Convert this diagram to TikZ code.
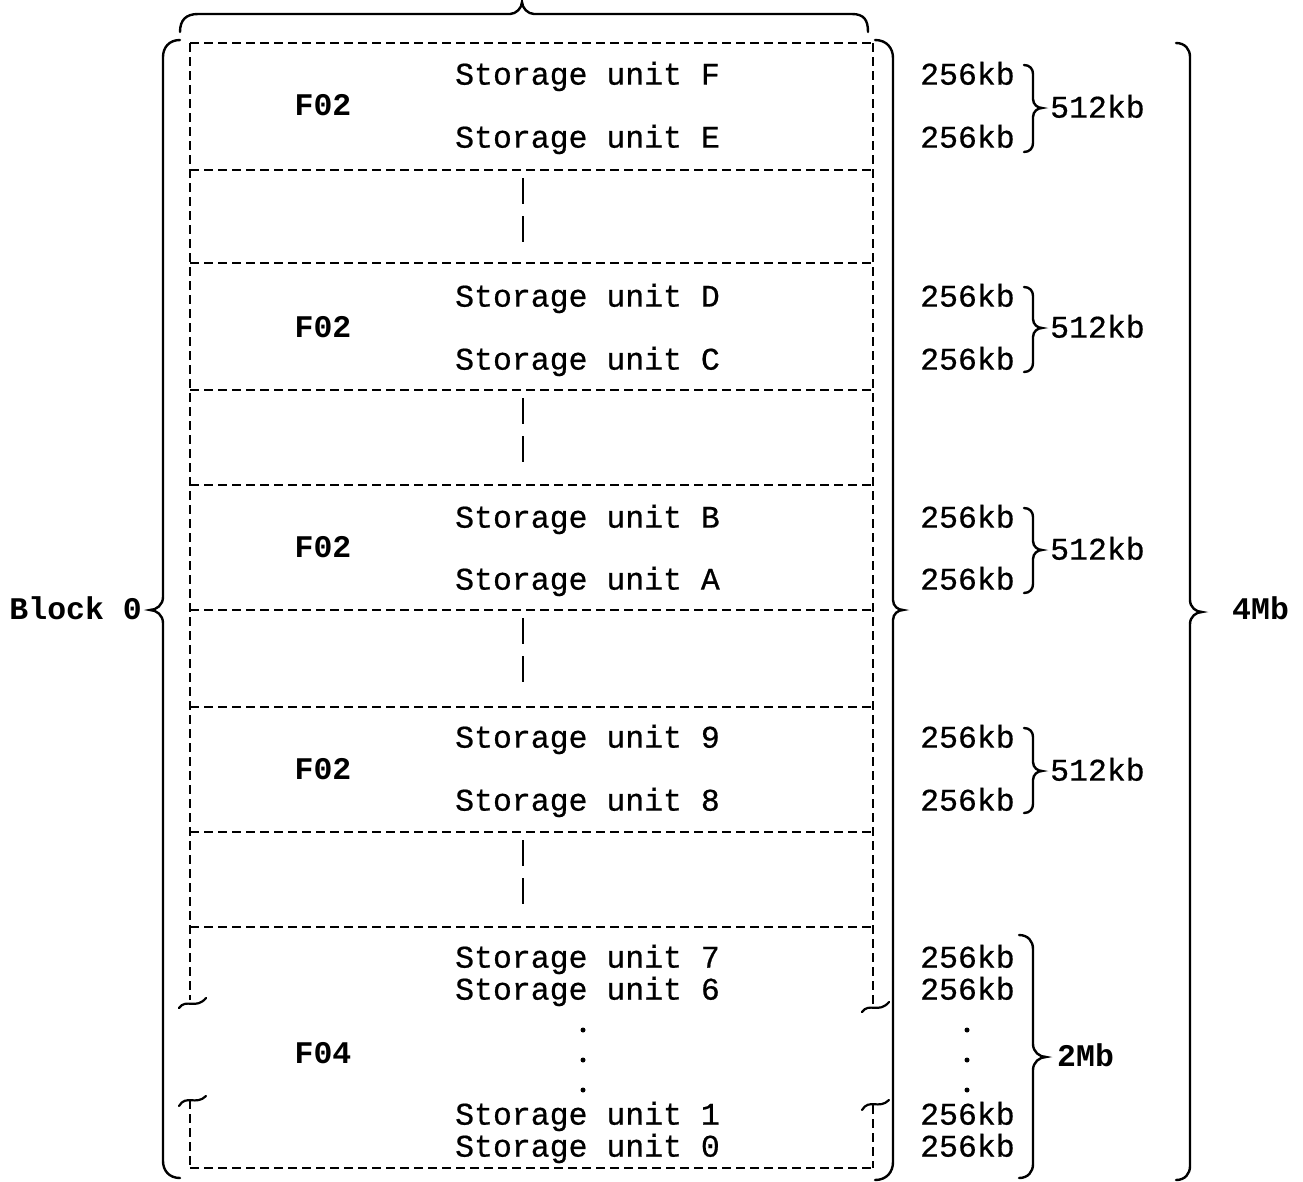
\documentclass[tikz,border=0pt]{standalone}
\usepackage{fontspec}
\setmainfont{Liberation Mono}
\newfontfamily\medmono[FakeBold=0.6]{Liberation Mono}
\newcommand\BraceR[6]{% x, ytop, ybot, r, t, ytip  (points right)
  \draw[brc] ({#1-#4},#2) .. controls ({#1-0.35*#4},#2) and (#1,{#2+0.45*#4}) .. (#1,{#2+#4})
    -- (#1,{#6-#5}) .. controls (#1,{#6-0.4*#5}) and ({#1+0.5*#5},#6) .. ({#1+#5},#6)
    .. controls ({#1+0.5*#5},#6) and (#1,{#6+0.4*#5}) .. (#1,{#6+#5})
    -- (#1,{#3-#4}) .. controls (#1,{#3-0.45*#4}) and ({#1-0.35*#4},#3) .. ({#1-#4},#3);}
\newcommand\BraceL[6]{% x, ytop, ybot, r, t, ytip  (points left)
  \draw[brc] ({#1+#4},#2) .. controls ({#1+0.35*#4},#2) and (#1,{#2+0.45*#4}) .. (#1,{#2+#4})
    -- (#1,{#6-#5}) .. controls (#1,{#6-0.4*#5}) and ({#1-0.5*#5},#6) .. ({#1-#5},#6)
    .. controls ({#1-0.5*#5},#6) and (#1,{#6+0.4*#5}) .. (#1,{#6+#5})
    -- (#1,{#3-#4}) .. controls (#1,{#3-0.45*#4}) and ({#1+0.35*#4},#3) .. ({#1+#4},#3);}
\begin{document}
\begin{tikzpicture}[x=1pt,y=-1pt,
  txt/.style={font=\medmono\fontsize{31.5}{31.5}\selectfont, inner sep=0pt, yshift=-7pt},
  bld/.style={font=\fontsize{31.5}{31.5}\selectfont\bfseries, inner sep=0pt, yshift=-7pt},
  dsh/.style={line width=1.8pt, dash pattern=on 9pt off 5pt},
  vdsh/.style={line width=1.8pt, dash pattern=on 26pt off 12pt},
  brc/.style={line width=2.4pt, line cap=round},
  brk/.style={line width=2.2pt, line cap=round},
  dotc/.style={circle, fill=black, inner sep=0pt, minimum size=5pt}]
\useasboundingbox (0,0) rectangle (1303,1181);

% horizontal dashed separators
\foreach \yy in {43,170,263,390,485,610,707,832,927,1168}
  \draw[dsh] (190,\yy) -- (873,\yy);
% outer dashed verticals with break marks
\draw[dsh] (190,43) -- (190,1000);
\draw[dsh] (873,43) -- (873,1005);
\draw[dsh] (190,1100) -- (190,1168);
\draw[dsh] (873,1105) -- (873,1168);
\draw[brk] (179,1008) .. controls (186,998) and (196,1010) .. (206,998);
\draw[brk] (862,1012) .. controls (869,1002) and (879,1014) .. (889,1002);
\draw[brk] (179,1106) .. controls (186,1094) and (196,1106) .. (206,1096);
\draw[brk] (862,1110) .. controls (869,1098) and (879,1110) .. (889,1100);
% centre dashed connectors in gaps
\foreach \a/\b in {178/242,398/462,618/685,840/905}
  \draw[vdsh] (523,\a) -- (523,\b);

% storage unit texts
\foreach \n/\lab/\yy in {sF/F/75,sE/E/138,sD/D/297,sC/C/360,sB/B/518,sA/A/580,s9/9/738,s8/8/801,s7/7/958,s6/6/990,s1/1/1115,s0/0/1147}
  \node[txt, anchor=mid west] (\n) at (455,\yy) {Storage unit \lab};
\foreach \n/\yy in {k1/75,k2/138,k3/297,k4/360,k5/518,k6/580,k7/738,k8/801,k9/958,k10/990,k11/1115,k12/1147}
  \node[txt, anchor=mid west] (\n) at (920,\yy) {256kb};
\node[dotc] (d1) at (583,1030) {};
\node[dotc] (d2) at (583,1060) {};
\node[dotc] (d3) at (583,1090) {};
\node[dotc] (e1) at (967,1030) {};
\node[dotc] (e2) at (967,1060) {};
\node[dotc] (e3) at (967,1090) {};

\foreach \n/\yy in {f1/106,f2/328,f3/548,f4/770}
  \node[bld, anchor=mid] (\n) at (323,\yy) {F02};
\node[bld, anchor=mid] (f5) at (323,1054) {F04};

% braces
\draw[brc] (180,32) .. controls (180,20) and (186,14) .. (198,14) -- (510,14)
   .. controls (516,14) and (522,8) .. (522,2) .. controls (522,8) and (528,14) .. (534,14)
   -- (852,14) .. controls (864,14) and (868,20) .. (868,32);
\BraceL{163}{40}{1178}{17}{13}{610}
\BraceR{893}{40}{1180}{18}{10}{610}
\BraceR{1190}{43}{1180}{14}{12}{612}
\BraceR{1033}{935}{1178}{14}{13}{1057}
\BraceR{1033}{65}{152}{9}{9}{108}
\BraceR{1033}{287}{372}{9}{9}{328}
\BraceR{1033}{508}{593}{9}{9}{550}
\BraceR{1033}{728}{813}{9}{9}{771}

\foreach \n/\yy in {m1/108,m2/328,m3/550,m4/771}
  \node[txt, anchor=mid west] (\n) at (1050,\yy) {512kb};
\node[bld, anchor=mid west] (mb2) at (1057,1057) {2Mb};
\node[bld, anchor=mid west] (mb4) at (1232,610) {4Mb};
\node[bld, anchor=mid east] (blk) at (142,610) {Block 0};
\end{tikzpicture}
\end{document}
